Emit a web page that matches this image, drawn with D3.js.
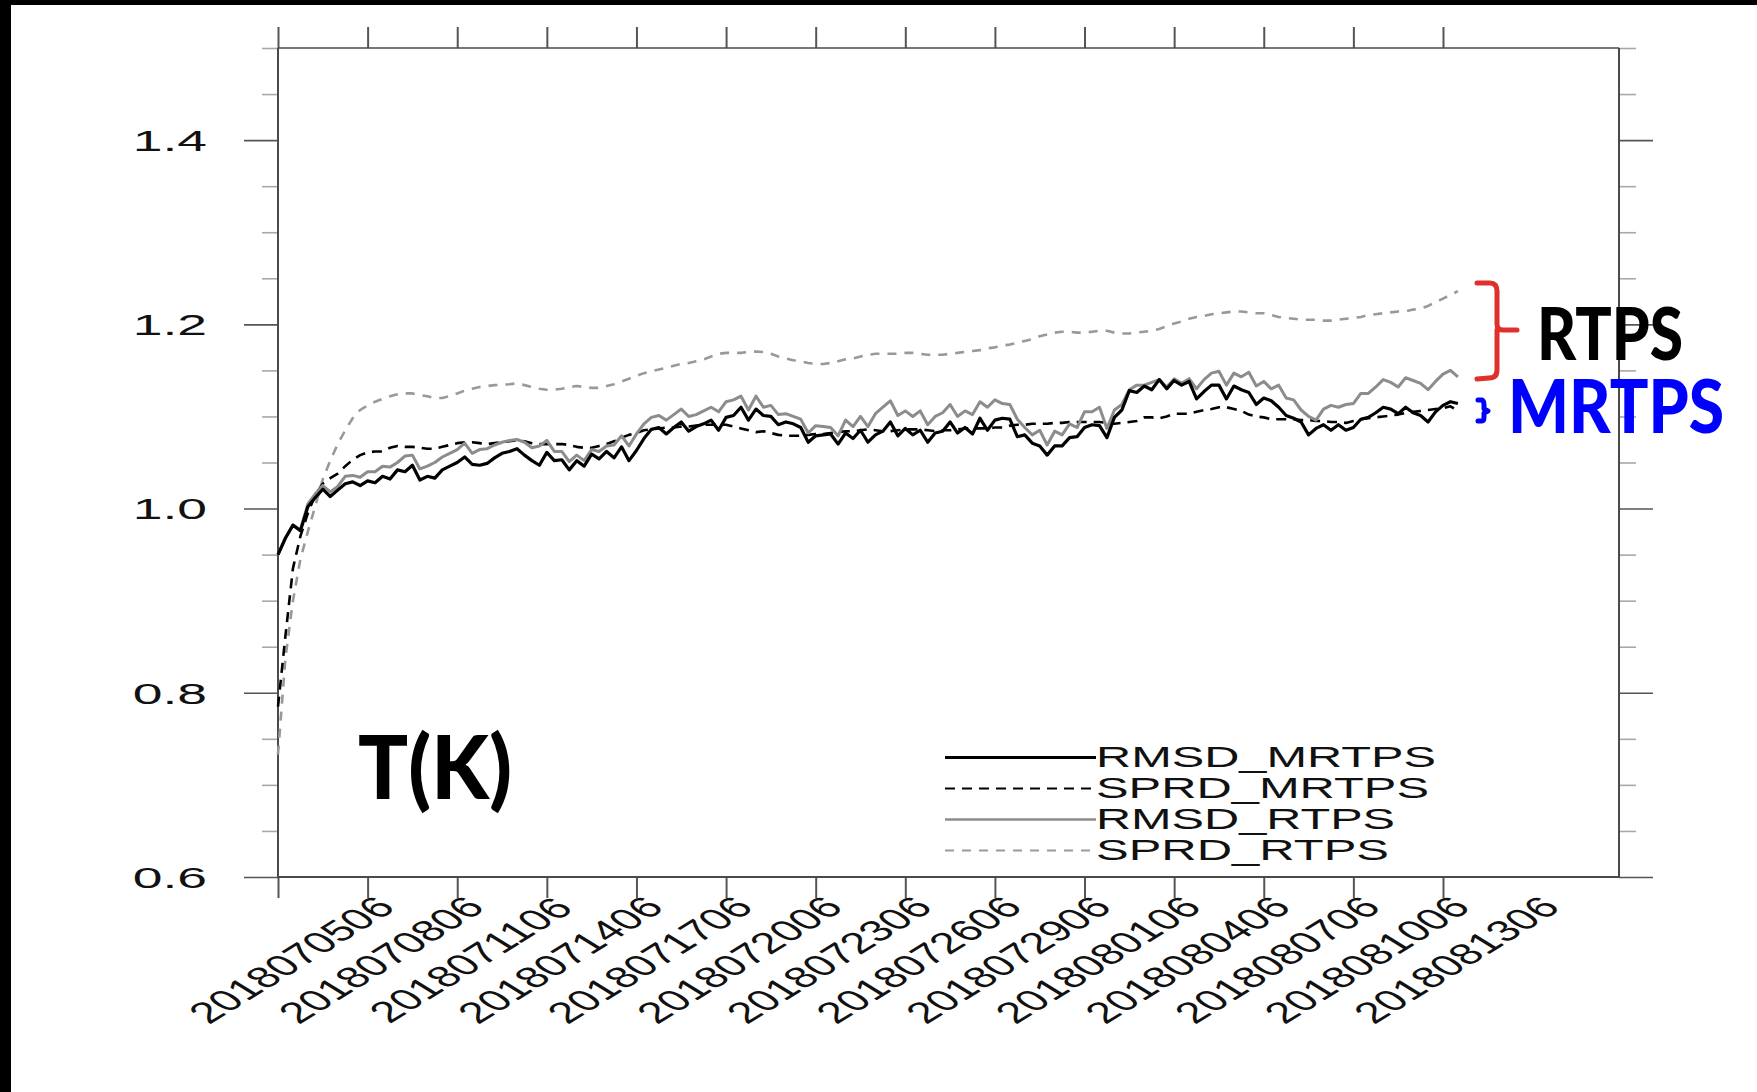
<!DOCTYPE html>
<html><head><meta charset="utf-8">
<script src="https://cdn.jsdelivr.net/npm/d3@7"></script>
<style>html,body{margin:0;padding:0;background:#fff;overflow:hidden}</style>
</head><body><svg id="c" width="1757" height="1092"></svg>
<script>
// ---- data (6-hourly steps starting 2018070506) ----
const tickLabels = ["2018070506","2018070806","2018071106","2018071406","2018071706","2018072006","2018072306","2018072606","2018072906","2018080106","2018080406","2018080706","2018081006","2018081306"];
const tickSteps = [0,12,24,36,48,60,72,84,96,108,120,132,144,156];
const yMajor = [0.6,0.8,1.0,1.2,1.4];
const yMinor = [0.65,0.7,0.75,0.85,0.9,0.95,1.05,1.1,1.15,1.25,1.3,1.35,1.45,1.5];
const seriesNames = ["RMSD_MRTPS","SPRD_MRTPS","RMSD_RTPS","SPRD_RTPS"];

const rmsdMRTPS = [0.950,0.968,0.982,0.976,1.002,1.012,1.021,1.013,1.020,1.027,
1.029,1.025,1.030,1.028,1.035,1.032,1.042,1.040,1.047,1.031,
1.035,1.033,1.042,1.046,1.050,1.056,1.048,1.047,1.049,1.055,
1.060,1.062,1.065,1.058,1.052,1.047,1.061,1.052,1.053,1.042,
1.052,1.046,1.059,1.054,1.062,1.055,1.067,1.052,1.063,1.076,
1.086,1.088,1.081,1.088,1.094,1.084,1.089,1.092,1.096,1.085,
1.099,1.101,1.110,1.096,1.108,1.101,1.100,1.091,1.094,1.092,
1.088,1.072,1.079,1.080,1.081,1.070,1.082,1.076,1.085,1.072,
1.080,1.084,1.094,1.079,1.087,1.080,1.085,1.072,1.082,1.084,
1.094,1.082,1.088,1.081,1.098,1.085,1.096,1.098,1.097,1.078,
1.080,1.071,1.068,1.058,1.068,1.068,1.077,1.078,1.088,1.091,
1.090,1.077,1.099,1.107,1.128,1.126,1.133,1.129,1.140,1.130,
1.139,1.134,1.138,1.119,1.127,1.134,1.134,1.119,1.133,1.129,
1.126,1.113,1.120,1.117,1.110,1.101,1.098,1.094,1.080,1.087,
1.091,1.085,1.091,1.085,1.088,1.097,1.099,1.104,1.110,1.108,
1.103,1.110,1.104,1.101,1.094,1.105,1.112,1.116,1.114];

const sprdMRTPS = [0.785,0.862,0.935,0.970,0.995,1.015,1.027,1.033,1.038,1.046,
1.053,1.058,1.061,1.062,1.062,1.066,1.068,1.067,1.067,1.066,
1.065,1.065,1.067,1.069,1.071,1.072,1.072,1.071,1.070,1.071,
1.072,1.073,1.074,1.073,1.071,1.070,1.070,1.070,1.070,1.069,
1.067,1.066,1.066,1.068,1.070,1.073,1.077,1.080,1.082,1.085,
1.086,1.087,1.088,1.088,1.089,1.089,1.090,1.091,1.091,1.091,
1.091,1.089,1.087,1.085,1.083,1.084,1.082,1.080,1.079,1.079,
1.079,1.080,1.081,1.081,1.082,1.083,1.084,1.084,1.085,1.086,
1.085,1.084,1.084,1.085,1.086,1.086,1.086,1.085,1.084,1.085,
1.085,1.086,1.087,1.087,1.087,1.087,1.088,1.088,1.090,1.091,
1.091,1.092,1.092,1.092,1.093,1.093,1.094,1.094,1.094,1.094,
1.094,1.093,1.092,1.093,1.094,1.095,1.099,1.099,1.098,1.100,
1.103,1.103,1.103,1.105,1.107,1.108,1.110,1.110,1.108,1.106,
1.102,1.100,1.099,1.097,1.097,1.097,1.097,1.096,1.096,1.095,
1.095,1.094,1.094,1.093,1.095,1.097,1.098,1.099,1.100,1.101,
1.102,1.104,1.105,1.106,1.107,1.108,1.109,1.111,1.106];

const rmsdRTPS = [0.950,0.968,0.982,0.977,1.005,1.016,1.025,1.018,1.024,1.035,
1.036,1.034,1.040,1.040,1.046,1.045,1.050,1.057,1.058,1.043,
1.046,1.050,1.056,1.060,1.064,1.071,1.060,1.064,1.065,1.069,
1.072,1.074,1.075,1.072,1.066,1.068,1.074,1.062,1.062,1.051,
1.058,1.052,1.064,1.062,1.068,1.069,1.079,1.068,1.081,1.092,
1.099,1.101,1.096,1.102,1.108,1.100,1.102,1.106,1.110,1.105,
1.116,1.118,1.122,1.107,1.122,1.110,1.112,1.102,1.103,1.100,
1.097,1.082,1.090,1.089,1.088,1.079,1.096,1.089,1.100,1.089,
1.103,1.110,1.117,1.101,1.106,1.100,1.106,1.091,1.100,1.104,
1.113,1.100,1.106,1.102,1.116,1.110,1.118,1.114,1.113,1.097,
1.088,1.080,1.085,1.069,1.084,1.080,1.092,1.088,1.105,1.105,
1.110,1.087,1.107,1.113,1.129,1.134,1.134,1.137,1.140,1.132,
1.141,1.136,1.141,1.130,1.140,1.147,1.149,1.134,1.147,1.143,
1.148,1.133,1.138,1.130,1.134,1.120,1.118,1.107,1.100,1.096,
1.108,1.112,1.110,1.113,1.114,1.125,1.125,1.132,1.140,1.137,
1.132,1.142,1.139,1.136,1.129,1.138,1.146,1.150,1.143];

const sprdRTPS = [0.733,0.838,0.900,0.945,0.975,1.003,1.032,1.052,1.070,1.085,
1.098,1.107,1.112,1.116,1.119,1.122,1.124,1.125,1.125,1.123,
1.122,1.120,1.120,1.122,1.125,1.128,1.130,1.132,1.133,1.134,
1.1345,1.135,1.136,1.134,1.132,1.130,1.129,1.129,1.130,1.132,
1.133,1.132,1.131,1.131,1.133,1.135,1.138,1.141,1.144,1.147,
1.149,1.151,1.153,1.155,1.157,1.158,1.160,1.162,1.165,1.168,
1.169,1.169,1.169,1.170,1.1705,1.170,1.168,1.165,1.163,1.161,
1.160,1.158,1.157,1.157,1.158,1.160,1.162,1.163,1.165,1.167,
1.168,1.168,1.168,1.168,1.169,1.169,1.168,1.167,1.167,1.167,
1.168,1.169,1.170,1.171,1.172,1.174,1.175,1.177,1.178,1.180,
1.182,1.184,1.187,1.189,1.191,1.192,1.192,1.191,1.191,1.192,
1.193,1.193,1.191,1.190,1.190,1.191,1.192,1.193,1.195,1.198,
1.201,1.203,1.206,1.208,1.209,1.211,1.212,1.213,1.214,1.214,
1.213,1.212,1.212,1.210,1.208,1.207,1.206,1.205,1.205,1.205,
1.204,1.204,1.205,1.206,1.207,1.208,1.210,1.211,1.212,1.213,
1.214,1.214,1.216,1.217,1.220,1.224,1.228,1.232,1.236];

// ---- drawing ----
const svg = d3.select("#c");
const L = 278, R = 1619, T = 48, B = 877;
const x = d3.scaleLinear().domain([0, 179.57]).range([L, R]);
const y = d3.scaleLinear().domain([0.6, 1.5]).range([B, T]);

svg.append("rect").attr("width",1757).attr("height",1092).attr("fill","#fff");
// black frame strips of the screenshot
svg.append("rect").attr("x",0).attr("y",0).attr("width",1757).attr("height",5).attr("fill","#000");
svg.append("rect").attr("x",0).attr("y",0).attr("width",11).attr("height",1092).attr("fill","#000");

const axCol = "#4a4a4a";
function styleAxis(g, col, w){
  g.select(".domain").remove();
  g.selectAll(".tick line").attr("stroke", col).attr("stroke-width", w);
  g.selectAll(".tick text").remove();
}
// y minor/major ticks left & right
svg.append("g").attr("transform",`translate(${L},0)`)
  .call(d3.axisLeft(y).tickValues(yMinor).tickSize(16)).call(g=>styleAxis(g,"#a8a8a8",1.6));
svg.append("g").attr("transform",`translate(${L},0)`)
  .call(d3.axisLeft(y).tickValues(yMajor).tickSize(34)).call(g=>styleAxis(g,"#555",1.6));
svg.append("g").attr("transform",`translate(${R},0)`)
  .call(d3.axisRight(y).tickValues(yMinor).tickSize(17)).call(g=>styleAxis(g,"#a8a8a8",1.6));
svg.append("g").attr("transform",`translate(${R},0)`)
  .call(d3.axisRight(y).tickValues(yMajor).tickSize(34)).call(g=>styleAxis(g,"#555",1.6));
// x ticks bottom & top
svg.append("g").attr("transform",`translate(0,${B})`)
  .call(d3.axisBottom(x).tickValues(tickSteps).tickSize(21)).call(g=>styleAxis(g,"#555",2));
svg.append("g").attr("transform",`translate(0,${T})`)
  .call(d3.axisTop(x).tickValues(tickSteps).tickSize(21)).call(g=>styleAxis(g,"#555",2));

// frame
svg.append("line").attr("x1",L).attr("x2",R).attr("y1",T).attr("y2",T).attr("stroke",axCol).attr("stroke-width",1.6);
svg.append("line").attr("x1",L).attr("x2",R).attr("y1",B).attr("y2",B).attr("stroke",axCol).attr("stroke-width",1.8);
svg.append("line").attr("x1",L).attr("x2",L).attr("y1",T).attr("y2",B).attr("stroke",axCol).attr("stroke-width",2);
svg.append("line").attr("x1",R).attr("x2",R).attr("y1",T).attr("y2",B).attr("stroke",axCol).attr("stroke-width",2);

// y labels (horizontally stretched like the reference)
svg.append("g").selectAll("text").data(yMajor).join("text")
  .attr("transform", d=>`translate(207,${y(d)+10.8}) scale(1.78,1)`)
  .attr("text-anchor","end").attr("font-family","'Liberation Sans', Arial, sans-serif")
  .attr("font-size",30).attr("fill","#111").text(d=>d.toFixed(1));

// x labels, rotated and stretched
svg.append("g").selectAll("text").data(tickLabels).join("text")
  .attr("transform", (d,i)=>`translate(${x(tickSteps[i])+25},967) scale(1.62,1) rotate(-45)`)
  .attr("text-anchor","middle").attr("font-family","'Liberation Sans', Arial, sans-serif")
  .attr("font-size",29.5).attr("fill","#111").text(d=>d);

// series
const styles = [
  {data: rmsdMRTPS, color:"#000", w:3.2, dash:null},
  {data: sprdMRTPS, color:"#000", w:2.6, dash:"10,7"},
  {data: rmsdRTPS, color:"#8c8c8c", w:3.0, dash:null},
  {data: sprdRTPS, color:"#999", w:2.6, dash:"9,8"}
];
const line = d3.line().x((d,i)=>x(i)).y(d=>y(d));
const drawOrder = [3,1,2,0];
drawOrder.forEach(k=>{
  const s = styles[k];
  svg.append("path").datum(s.data).attr("d", line).attr("fill","none")
    .attr("stroke", s.color).attr("stroke-width", s.w).attr("stroke-linejoin","round")
    .attr("stroke-dasharray", s.dash);
});

// legend
const legY = [767, 798, 829, 860];
const legLen = [340, 333, 299, 293];
const leg = svg.append("g");
seriesNames.forEach((n,i)=>{
  const s = styles[i];
  leg.append("line").attr("x1",945).attr("x2",1096).attr("y1",legY[i]-9.5).attr("y2",legY[i]-9.5)
    .attr("stroke",s.color).attr("stroke-width",s.w-0.4).attr("stroke-dasharray",s.dash);
  leg.append("text").attr("x",1096).attr("y",legY[i]).attr("font-family","'Liberation Sans', Arial, sans-serif")
    .attr("font-size",30).attr("fill","#111").attr("textLength",legLen[i]).attr("lengthAdjust","spacingAndGlyphs").text(n);
});

// annotations
svg.append("text").attr("x",358).attr("y",799).attr("font-family","Lato, 'Open Sans', sans-serif")
  .attr("font-weight",900).attr("font-size",88).attr("fill","#000")
  .attr("textLength",154).attr("lengthAdjust","spacingAndGlyphs").text("T(K)");
svg.append("text").attr("x",1537).attr("y",360).attr("font-family","Lato, 'Open Sans', sans-serif")
  .attr("font-weight",900).attr("font-size",73).attr("fill","#000")
  .attr("textLength",146).attr("lengthAdjust","spacingAndGlyphs").text("RTPS");
svg.append("text").attr("x",1508).attr("y",433).attr("font-family","Lato, 'Open Sans', sans-serif")
  .attr("font-weight",900).attr("font-size",75).attr("fill","#0000ff")
  .attr("textLength",216).attr("lengthAdjust","spacingAndGlyphs").text("MRTPS");
// red brace
svg.append("path").attr("d","M1477,283 L1490,283 Q1497,283 1497,291 L1497,324 Q1497,330 1503,330 L1517,330 M1497,330 Q1497,336 1497,342 L1497,370 Q1497,378 1489,378 L1477,379")
  .attr("fill","none").attr("stroke","#e0302c").attr("stroke-width",5).attr("stroke-linecap","round").attr("stroke-linejoin","round");
// blue small brace
svg.append("path").attr("d","M1478,400 L1482,400 Q1484,401 1484,405 L1484,409 L1488,411 L1484,413 L1484,417 Q1484,421 1482,421 L1478,421")
  .attr("fill","none").attr("stroke","#0000ff").attr("stroke-width",5).attr("stroke-linecap","round").attr("stroke-linejoin","round");
</script>
</body></html>
